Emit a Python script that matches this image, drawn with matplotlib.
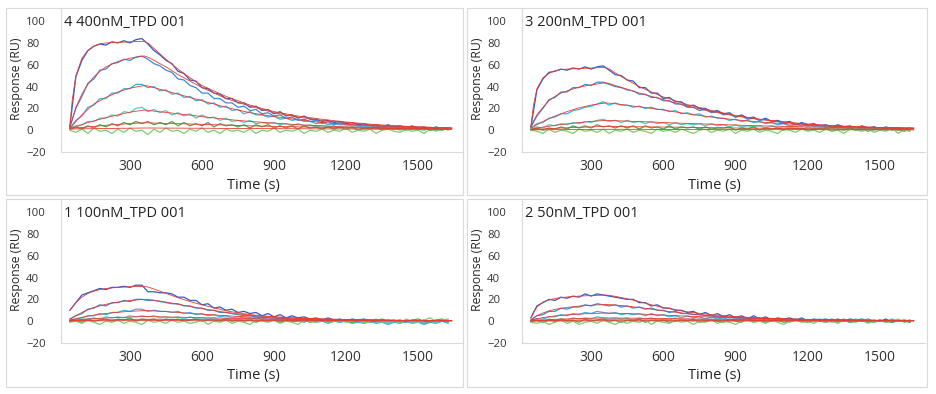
import matplotlib
matplotlib.use("Agg")
import matplotlib.pyplot as plt
from matplotlib.patches import Rectangle

plt.rcParams["font.family"] = ["Open Sans", "DejaVu Sans"]

# sample times of the sensorgrams (s) and of the fitted curves
TIME = list(range(50, 1650, 25))
FIT_T = [50, 60, 75, 100, 125, 150, 175, 200, 250, 300, 360, 380, 400, 450,
         500, 550, 600, 700, 800, 900, 1000, 1100, 1200, 1300, 1400, 1500, 1640]

X_TICKS = [300, 600, 900, 1200, 1500]
Y_TICKS = [-20, 0, 20, 40, 60, 80, 100]

TITLES = ["4 400nM_TPD 001", "3 200nM_TPD 001", "1 100nM_TPD 001", "2 50nM_TPD 001"]

# ---- 4 400nM ----
TL_D1 = [4, 49, 64, 73, 77, 79, 78, 81, 80, 82, 80, 83, 84, 79, 73, 69,
         64, 61, 54, 52, 46, 45, 39, 38, 34, 33, 29, 29, 25, 25, 21, 22,
         18, 19, 15, 17, 13, 14, 11, 13, 10, 10, 8, 9, 7, 8, 6, 7,
         5, 6, 4, 5, 3, 5, 3, 4, 2, 4, 2, 3, 1, 3, 1, 2]
TL_D2 = [3, 20, 31, 43, 47, 55, 56, 61, 62, 65, 64, 67, 68, 65, 61, 59,
         55, 53, 47, 46, 41, 39, 34, 34, 29, 29, 25, 25, 21, 22, 18, 19,
         15, 16, 13, 14, 11, 12, 9, 10, 8, 9, 6, 8, 5, 7, 5, 5,
         4, 5, 3, 4, 2, 4, 2, 3, 1, 3, 1, 2, 0, 2, 1, 1]
TL_D3 = [2, 9, 13, 21, 23, 29, 29, 34, 34, 38, 38, 42, 42, 39, 40, 36,
         37, 33, 34, 30, 31, 27, 28, 24, 25, 21, 22, 18, 19, 15, 17, 14,
         14, 12, 13, 10, 11, 9, 10, 8, 8, 6, 7, 5, 6, 5, 5, 4,
         4, 3, 4, 2, 3, 2, 3, 1, 2, 1, 2, 1, 2, 0, 1, 1]
TL_D4 = [2, 4, 5, 8, 8, 11, 11, 14, 13, 17, 16, 20, 21, 17, 19, 16,
         18, 14, 16, 13, 15, 11, 14, 11, 12, 9, 11, 8, 9, 7, 9, 6,
         7, 6, 7, 5, 6, 4, 6, 4, 5, 3, 4, 3, 4, 2, 3, 2,
         3, 1, 3, 1, 2, 1, 2, 0, 2, 1, 1, 0, 2, 0, 1, 1]
TL_D5 = [1, 3, 1, 4, 2, 5, 3, 6, 4, 7, 5, 8, 6, 8, 5, 7,
         5, 8, 4, 7, 4, 6, 4, 7, 3, 6, 4, 5, 3, 5, 2, 5,
         3, 5, 2, 4, 2, 4, 1, 4, 2, 3, 1, 3, 1, 3, 1, 3,
         0, 2, 1, 3, 0, 2, 1, 2, 0, 2, 1, 2, 0, 1, 0, 2]
TL_D6 = [0, -2, 1, -3, 2, -1, 0, -3, 1, -2, 2, -1, 0, -4, 1, -2,
         2, -1, 0, -3, 1, -1, 2, -2, 0, -3, 1, -1, 0, -2, 1, -3,
         0, -1, 2, -2, 0, -1, 1, -3, 0, -1, 1, -2, 0, -1, 2, -2,
         0, -1, 1, -3, 0, 1, -1, -2, 1, -1, 0, -3, 1, -1, 2, 0]
TL_F1 = [3, 28, 50, 66, 73, 77, 79, 80, 80.5, 81, 81.5, 79, 75, 65, 56, 48, 41,
         31, 23, 17, 13, 10, 7.5, 5.5, 4, 3, 2]
TL_F2 = [3, 10, 21, 33, 42, 49, 54, 58, 63, 66, 68, 66.5, 64, 58, 51, 45, 39,
         29, 22, 16, 12, 9, 7, 5, 4, 3, 2]
TL_F3 = [2, 4, 8, 14, 19, 24, 27, 30, 35, 38.5, 41, 40.3, 39, 36, 33, 30, 27,
         21, 16, 12.5, 9.5, 7, 5.5, 4, 3, 2.5, 2]
TL_F4 = [2, 2.5, 3, 5, 7, 8.5, 10, 11.5, 14, 16.5, 18.5, 18, 17.5, 16.3, 15, 13.8,
         12.5, 10, 8, 6.5, 5, 4, 3, 2.5, 2, 1.5, 1.2]
TL_F5 = [1.5, 1.7, 2, 2.5, 3, 3.5, 4, 4.5, 5.3, 6, 6.8, 6.7, 6.5, 6.2, 6, 5.7,
         5.3, 4.7, 4, 3.5, 3, 2.6, 2.2, 1.8, 1.5, 1.3, 1]
TL_F6 = [1, 1, 1.1, 1.2, 1.3, 1.4, 1.5, 1.5, 1.7, 1.8, 2, 2, 2, 1.9, 1.9, 1.8,
         1.8, 1.6, 1.5, 1.4, 1.3, 1.2, 1.1, 1, 0.9, 0.9, 0.8]

# ---- 3 200nM ----
TR_D1 = [3, 37, 47, 53, 54, 56, 55, 57, 56, 58, 56, 58, 59, 55, 51, 50,
         46, 45, 39, 39, 34, 34, 29, 30, 26, 26, 22, 23, 20, 20, 17, 18,
         15, 16, 12, 14, 11, 12, 9, 11, 8, 9, 7, 8, 5, 7, 5, 6,
         4, 5, 3, 5, 3, 4, 2, 4, 2, 3, 1, 3, 1, 2, 1, 2]
TR_D2 = [3, 13, 20, 28, 30, 35, 35, 39, 39, 42, 41, 44, 44, 42, 40, 39,
         37, 36, 33, 33, 30, 30, 27, 27, 24, 24, 21, 21, 18, 19, 16, 17,
         14, 15, 12, 13, 10, 11, 9, 10, 8, 8, 6, 7, 5, 6, 4, 5,
         4, 4, 3, 4, 2, 3, 2, 3, 1, 3, 1, 2, 1, 2, 0, 1]
TR_D3 = [2, 6, 7, 11, 12, 15, 15, 18, 19, 21, 22, 24, 26, 23, 25, 23,
         23, 21, 22, 20, 21, 19, 19, 17, 18, 15, 16, 14, 15, 12, 13, 11,
         11, 9, 10, 8, 9, 7, 8, 6, 7, 5, 6, 4, 5, 4, 5, 3,
         4, 3, 3, 2, 3, 2, 3, 1, 2, 1, 2, 1, 2, 0, 1, 1]
TR_D4 = [1, 3, 2, 5, 4, 6, 5, 7, 6, 8, 7, 9, 10, 8, 9, 7,
         9, 7, 8, 6, 8, 6, 7, 5, 7, 5, 6, 5, 6, 4, 6, 4,
         5, 3, 5, 3, 4, 3, 4, 2, 4, 2, 3, 2, 3, 1, 3, 1,
         2, 1, 2, 0, 2, 1, 2, 0, 1, 0, 2, 0, 1, 0, 1, 0]
TR_D5 = [0, 2, 0, 2, 1, 3, 1, 4, 2, 4, 2, 5, 3, 4, 2, 4,
         2, 4, 1, 4, 2, 3, 1, 4, 1, 3, 2, 3, 1, 3, 1, 2,
         2, 3, 0, 2, 1, 3, 0, 2, 1, 2, 0, 2, 1, 2, 0, 1,
         1, 2, -1, 1, 0, 2, 0, 1, -1, 1, 0, 2, 0, 1, -1, 1]
TR_D6 = [0, -1, -3, 1, -2, 0, -1, -3, 1, -1, 0, -2, 1, -3, 0, -1,
         1, -2, 0, -1, -3, 1, -1, 0, -2, 1, -1, -3, 0, 1, -2, 0,
         -1, 1, -3, 0, -1, 1, -2, 0, -1, -3, 1, 0, -2, 1, -1, 0,
         -2, 1, -1, 0, -3, 1, 0, -1, 1, -2, 0, -1, 2, -3, 0, -1]
TR_F1 = [3, 22, 38, 48, 52, 54.5, 55.5, 56, 56.5, 57, 57.5, 55.5, 52.5, 46, 40, 35,
         30.5, 23.5, 18, 13.5, 10, 7.5, 5.5, 4, 3, 2.5, 2]
TR_F2 = [3, 8, 14, 21, 27, 31, 34, 36, 39.5, 41.5, 43.5, 42.5, 41, 37.5, 34, 31,
         28, 22, 17, 13, 10, 7.5, 5.5, 4.2, 3.2, 2.5, 2]
TR_F3 = [2, 3, 5, 8, 10.5, 13, 15, 17, 20.5, 23, 25, 24.7, 24.2, 22.8, 21.5, 20,
         18.5, 15, 12, 9.5, 7.5, 6, 4.5, 3.5, 2.8, 2.2, 1.5]
TR_F4 = [1, 1.3, 1.8, 2.8, 3.6, 4.5, 5.2, 5.8, 7, 8, 9, 8.9, 8.7, 8.3, 7.9, 7.5,
         7, 6.2, 5.5, 4.7, 4, 3.5, 3, 2.5, 2.1, 1.8, 1.5]
TR_F5 = [0.5, 0.6, 0.8, 1.1, 1.4, 1.7, 2, 2.2, 2.6, 3, 3.4, 3.4, 3.3, 3.2, 3.1, 3,
         2.9, 2.6, 2.3, 2, 1.8, 1.6, 1.4, 1.2, 1, 0.9, 0.8]
TR_F6 = [0.3, 0.3, 0.3, 0.4, 0.4, 0.5, 0.5, 0.5, 0.6, 0.7, 0.8, 0.8, 0.8, 0.8, 0.8, 0.7,
         0.7, 0.7, 0.6, 0.6, 0.5, 0.5, 0.5, 0.4, 0.4, 0.4, 0.3]

# ---- 1 100nM ----
BL_D1 = [10, 17, 24, 26, 28, 30, 29, 31, 31, 32, 31, 33, 33, 27, 27, 26,
         26, 25, 22, 22, 19, 19, 15, 16, 12, 13, 10, 11, 8, 9, 7, 8,
         5, 7, 4, 6, 3, 5, 3, 4, 2, 3, 1, 3, 1, 2, 0, 2,
         1, 2, 0, 1, -1, 1, 0, 1, -1, 1, 0, 1, -1, 1, 0, 1]
BL_D2 = [2, 5, 7, 11, 12, 15, 14, 17, 17, 19, 18, 20, 20, 19, 19, 18,
         17, 16, 16, 14, 14, 12, 12, 10, 10, 8, 8, 7, 6, 5, 5, 4,
         4, 3, 3, 2, 3, 1, 2, 1, 2, 0, 1, 0, 1, -1, 1, 0,
         0, -1, 1, -1, 0, -2, 0, -1, 1, -1, 0, -2, 0, -1, 0, -1]
BL_D3 = [1, 2, 3, 5, 5, 7, 6, 8, 8, 10, 9, 11, 11, 9, 10, 9,
         9, 8, 9, 7, 8, 6, 7, 5, 6, 4, 5, 3, 4, 3, 3, 2,
         3, 1, 2, 1, 2, 0, 1, -1, 1, -1, 0, -2, 0, -1, 0, -2,
         -1, -2, 0, -2, -1, -3, -1, -2, 0, -2, -1, -3, -1, -2, 0, -2]
BL_D4 = [0, 1, 2, 2, 3, 2, 4, 3, 4, 3, 5, 4, 5, 4, 5, 3,
         4, 3, 4, 2, 4, 2, 3, 2, 3, 1, 3, 1, 2, 1, 2, 0,
         2, 0, 1, 0, 2, -1, 1, 0, 1, -1, 1, 0, 0, -1, 1, -1,
         0, -1, 1, -1, 0, -2, 0, -1, 1, -1, 0, -1, 0, -2, 1, -1]
BL_D5 = [0, 1, -1, 2, 0, 1, 2, 0, 2, 1, 3, 0, 2, 1, 2, 0,
         2, 1, 2, 0, 1, 2, 0, 1, 1, 0, 2, 0, 1, 0, 1, -1,
         1, 0, 1, -1, 1, 0, 0, 1, -1, 0, 1, -1, 0, 1, 0, -1,
         0, 1, -1, 0, 2, 0, 1, -1, 0, 1, 2, 0, -1, 1, 2, 0]
BL_D6 = [-1, 0, -2, 1, -1, -3, 0, -1, 1, -2, 0, -1, -3, 1, -1, 0,
         -2, 1, -1, 0, -2, -1, 1, -3, 0, -1, 1, -2, 0, -1, -3, 1,
         0, -1, 1, -2, 0, -1, -3, 1, 0, -1, 2, -2, 0, 1, -1, 0,
         1, -2, 0, 2, -1, 0, 1, -2, 2, 0, -1, 1, 3, 0, 1, 2]
BL_F1 = [10, 13, 17, 22, 25.5, 27.5, 29, 30, 31, 31.5, 32, 31, 29.5, 25.5, 21.5, 18,
         15, 9.5, 6, 4, 2.8, 2, 1.5, 1.1, 0.8, 0.6, 0.5]
BL_F2 = [2, 3, 5, 8, 10.5, 12.5, 14, 15.5, 17.5, 19, 20, 19.7, 19.2, 17.5, 15.5, 13.5,
         11.5, 8, 5.5, 3.8, 2.7, 2, 1.5, 1.1, 0.8, 0.6, 0.5]
BL_F3 = [1, 1.5, 2.2, 3.5, 4.6, 5.5, 6.3, 7, 8.2, 9, 9.7, 9.6, 9.4, 8.8, 8, 7.2,
         6.4, 5, 3.8, 2.9, 2.2, 1.7, 1.3, 1, 0.8, 0.6, 0.5]
BL_F4 = [0.5, 0.7, 1, 1.5, 1.9, 2.3, 2.6, 2.9, 3.4, 3.8, 4.2, 4.2, 4.1, 3.9, 3.7, 3.4,
         3.2, 2.7, 2.3, 1.9, 1.6, 1.3, 1.1, 0.9, 0.7, 0.6, 0.5]
BL_F5 = [0.3, 0.4, 0.5, 0.7, 0.8, 1, 1.1, 1.2, 1.4, 1.6, 1.8, 1.8, 1.8, 1.7, 1.6, 1.5,
         1.4, 1.2, 1, 0.9, 0.8, 0.7, 0.6, 0.5, 0.4, 0.4, 0.3]
BL_F6 = [0.2, 0.2, 0.2, 0.3, 0.3, 0.3, 0.4, 0.4, 0.4, 0.5, 0.5, 0.5, 0.5, 0.5, 0.5, 0.5,
         0.4, 0.4, 0.4, 0.3, 0.3, 0.3, 0.3, 0.2, 0.2, 0.2, 0.2]

# ---- 2 50nM ----
BR_D1 = [3, 14, 17, 20, 19, 22, 21, 23, 22, 25, 23, 25, 24, 23, 22, 21,
         20, 20, 17, 17, 14, 15, 12, 12, 10, 10, 8, 9, 6, 8, 5, 7,
         4, 6, 3, 5, 2, 5, 2, 4, 1, 3, 2, 3, 1, 3, 0, 2,
         1, 2, 0, 2, 0, 2, 1, 2, 0, 1, 0, 2, -1, 1, 0, 1]
BR_D2 = [1, 5, 6, 9, 9, 12, 11, 13, 13, 15, 14, 16, 15, 14, 15, 13,
         14, 12, 13, 11, 12, 10, 10, 8, 9, 7, 7, 6, 6, 5, 5, 4,
         4, 3, 4, 2, 3, 2, 3, 1, 2, 1, 2, 0, 2, 0, 1, 1,
         1, 0, 2, 0, 1, -1, 1, 0, 2, 0, 1, -1, 1, 0, 1, 0]
BR_D3 = [1, 2, 2, 4, 4, 6, 5, 7, 6, 8, 7, 9, 8, 7, 8, 6,
         7, 6, 7, 5, 7, 5, 6, 4, 5, 3, 5, 3, 4, 2, 4, 2,
         3, 1, 3, 1, 2, 1, 3, 0, 2, 1, 2, 0, 2, 0, 1, 1,
         2, 0, 1, -1, 1, 0, 2, 0, 1, -1, 1, 0, 2, 0, 1, -1]
BR_D4 = [0, 1, 0, 2, 1, 2, 1, 3, 2, 3, 2, 4, 3, 2, 3, 2,
         3, 1, 3, 2, 3, 1, 2, 1, 3, 1, 2, 0, 2, 1, 2, 0,
         1, 0, 2, 0, 1, -1, 1, 0, 1, 0, 1, -1, 1, 0, 1, 0,
         0, 1, -1, 0, 1, -1, 0, 1, 0, -1, 1, 0, -1, 0, 1, 0]
BR_D5 = [0, 1, -1, 1, 0, 2, 0, 1, -1, 2, 0, 1, 2, 0, 1, -1,
         1, 0, 2, -1, 1, 0, 1, -1, 0, 1, 0, 2, -1, 0, 1, 0,
         -1, 1, 0, -1, 2, 0, 1, -1, 0, 1, -1, 0, 1, 0, -1, 1,
         0, -1, 1, 0, 2, -1, 0, 1, -1, 0, 1, 0, -1, 1, 0, -1]
BR_D6 = [-1, -2, 0, -3, -1, 1, -2, 0, -3, -1, 0, -2, 1, -1, -3, 0,
         -2, 0, -1, 1, -3, 0, -1, -2, 1, -1, 0, -3, 0, -1, 1, -2,
         0, -1, -3, 0, 1, -1, 0, -2, 1, -1, -3, 0, 1, -1, 0, -2,
         1, -1, 0, -2, 1, 0, -1, 1, -2, 0, 1, -1, 0, 2, -1, 0]
BR_F1 = [3, 8, 13, 17.5, 19.5, 20.8, 21.6, 22.2, 23, 23.5, 24, 23.5, 22.8, 20.5, 18, 15,
         12.5, 8.5, 6, 4.2, 3, 2.2, 1.6, 1.2, 0.9, 0.7, 0.5]
BR_F2 = [1, 3, 5, 7.5, 9.5, 10.8, 11.8, 12.6, 13.8, 14.6, 15.3, 15.1, 14.8, 13.8, 12.5, 11,
         9.5, 7, 5, 3.6, 2.6, 1.9, 1.4, 1, 0.8, 0.6, 0.5]
BR_F3 = [0.8, 1.5, 2.3, 3.3, 4.1, 4.8, 5.3, 5.8, 6.5, 7, 7.5, 7.4, 7.3, 7, 6.6, 6.1,
         5.6, 4.6, 3.7, 3, 2.4, 1.9, 1.5, 1.2, 0.9, 0.7, 0.6]
BR_F4 = [0.4, 0.6, 0.8, 1.1, 1.4, 1.7, 1.9, 2.1, 2.4, 2.7, 3, 3, 2.9, 2.8, 2.7, 2.5,
         2.4, 2.1, 1.8, 1.5, 1.3, 1.1, 0.9, 0.8, 0.7, 0.6, 0.5]
BR_F5 = [0.2, 0.3, 0.4, 0.5, 0.6, 0.7, 0.8, 0.9, 1, 1.1, 1.2, 1.2, 1.2, 1.2, 1.1, 1.1,
         1, 0.9, 0.8, 0.7, 0.6, 0.5, 0.5, 0.4, 0.4, 0.3, 0.3]
BR_F6 = [0.1, 0.1, 0.1, 0.2, 0.2, 0.2, 0.2, 0.3, 0.3, 0.3, 0.3, 0.3, 0.3, 0.3, 0.3, 0.3,
         0.3, 0.3, 0.2, 0.2, 0.2, 0.2, 0.2, 0.2, 0.1, 0.1, 0.1]

DATA = [[TL_D1, TL_D2, TL_D3, TL_D4, TL_D5, TL_D6],
        [TR_D1, TR_D2, TR_D3, TR_D4, TR_D5, TR_D6],
        [BL_D1, BL_D2, BL_D3, BL_D4, BL_D5, BL_D6],
        [BR_D1, BR_D2, BR_D3, BR_D4, BR_D5, BR_D6]]
FITS = [[TL_F1, TL_F2, TL_F3, TL_F4, TL_F5, TL_F6],
        [TR_F1, TR_F2, TR_F3, TR_F4, TR_F5, TR_F6],
        [BL_F1, BL_F2, BL_F3, BL_F4, BL_F5, BL_F6],
        [BR_F1, BR_F2, BR_F3, BR_F4, BR_F5, BR_F6]]

COLORS = ["#2f5cc9", "#3a8ad8", "#3ab2e2", "#55cbc6", "#4aa84c", "#7fcb6c"]
RED = "#ea3b33"
GRID = "#d9d9d9"

W, H = 936, 394
# pixel boxes: outer frame and plot area (x0, y0, x1, y1)
OUTER = [(6, 8, 463, 195), (467, 8, 927, 195), (6, 199, 463, 387), (467, 199, 927, 387)]
PLOT = [(61, 8, 463, 152), (522, 8, 925, 152), (61, 199, 463, 343), (522, 199, 925, 343)]

fig = plt.figure(figsize=(W / 100, H / 100), dpi=100)

for i in range(4):
    ox0, oy0, ox1, oy1 = OUTER[i]
    px0, py0, px1, py1 = PLOT[i]
    fig.add_artist(Rectangle((ox0 / W, 1 - oy1 / H), (ox1 - ox0) / W, (oy1 - oy0) / H,
                             transform=fig.transFigure, fill=False, ec=GRID, lw=0.8))
    ax = fig.add_axes([px0 / W, 1 - py1 / H, (px1 - px0) / W, (py1 - py0) / H])
    for d, c in zip(DATA[i], COLORS):
        ax.plot(TIME, d, color=c, lw=0.9)
    for f in FITS[i]:
        ax.plot(FIT_T, f, color=RED, lw=0.6)
    ax.set_xlim(13, 1687)
    ax.set_ylim(-20, 112)
    ax.set_xticks(X_TICKS)
    ax.set_yticks(Y_TICKS)
    ax.tick_params(length=0, colors="#333333")
    ax.tick_params(axis="x", labelsize=10, pad=5)
    ax.tick_params(axis="y", labelsize=8.2, pad=25)
    for lb in ax.get_yticklabels():
        lb.set_ha("left")
    for s in ["top", "right"]:
        ax.spines[s].set_visible(False)
    for s in ["left", "bottom"]:
        ax.spines[s].set_color(GRID)
        ax.spines[s].set_linewidth(0.8)
    ax.text(0.007, 0.9, TITLES[i], transform=ax.transAxes, fontsize=10.5,
            va="center", color="#222222")
    fig.text(((px0 + px1) / 2 - 9) / W, 1 - (py1 + 33) / H, "Time (s)",
             ha="center", va="center", fontsize=10.5, color="#262626")
    fig.text((ox0 + 11) / W, 1 - (py0 + 71) / H, "Response (RU)", rotation=90,
             ha="center", va="center", fontsize=8.8, color="#262626")

fig.savefig("out.png", dpi=100, facecolor="white")
